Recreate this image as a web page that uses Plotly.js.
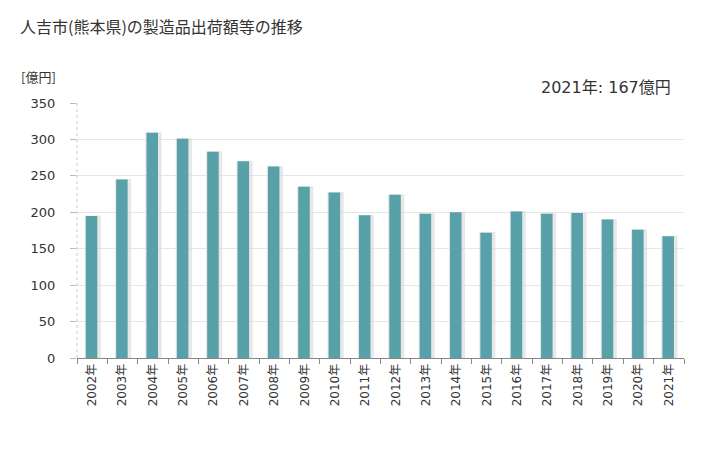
<!DOCTYPE html>
<html>
<head>
<meta charset="utf-8">
<script src="https://cdn.plot.ly/plotly-3.0.1.min.js"></script>
<style>html,body{margin:0;padding:0;background:#fff;}#chart{width:728px;height:450px;}</style>
</head>
<body>
<div id="chart"></div>
<script>
const years = ["2002年","2003年","2004年","2005年","2006年","2007年","2008年","2009年","2010年","2011年","2012年","2013年","2014年","2015年","2016年","2017年","2018年","2019年","2020年","2021年"];
const values = [195, 245, 309, 301, 283, 270, 263, 235, 227, 196, 224, 198, 200, 172, 201, 198, 199, 190, 176, 167];
const yTicks = [0, 50, 100, 150, 200, 250, 300, 350];
const titleText = "人吉市(熊本県)の製造品出荷額等の推移";
const unitText = "[億円]";
const noteText = "2021年: 167億円";

const font = "'DejaVu Sans', 'Noto Sans CJK JP', sans-serif";
const cjk = "'Noto Sans CJK JP', 'Noto Sans', sans-serif";

const shadow = {
  type: "bar", x: years, y: values, width: 0.5, offset: -0.23,
  marker: {color: "rgba(210,210,210,0.5)", line: {color: "rgba(228,228,228,0.8)", width: 1}},
  hoverinfo: "skip", showlegend: false
};
const bars = {
  type: "bar", x: years, y: values, width: 0.38, offset: -0.21,
  marker: {color: "#58a1a8", line: {width: 0}},
  showlegend: false
};

const layout = {
  width: 728, height: 450,
  margin: {l: 77, r: 44, t: 103, b: 92},
  paper_bgcolor: "#fff", plot_bgcolor: "#fff",
  barmode: "overlay",
  font: {family: font, size: 12, color: "#333"},
  title: {text: titleText, xref: "container", x: 20/728, xanchor: "left", y: 0.94, yanchor: "middle",
          font: {family: cjk, size: 16, color: "#333"}, pad: {l: 0}},
  xaxis: {
    type: "category", tickangle: -90, tickson: "boundaries",
    ticks: "outside", ticklen: 5, tickcolor: "#888",
    showline: true, linecolor: "#888", linewidth: 1,
    showgrid: false, tickfont: {family: font, size: 12, color: "#333"},
    range: [-0.5, years.length - 0.5]
  },
  yaxis: {
    range: [0, 350], tickvals: yTicks, ticktext: yTicks.map(String),
    ticks: "outside", ticklen: 6, tickcolor: "#bbb",
    showline: false, showgrid: true, gridcolor: "#e6e6e6", gridwidth: 1,
    zeroline: false, tickfont: {family: font, size: 13, color: "#333"},
    ticklabelstandoff: 12
  },
  shapes: [
    {type: "line", xref: "paper", yref: "paper", x0: 0, x1: 0, y0: 0, y1: 1,
     line: {color: "#c8c8c8", width: 1, dash: "dot"}}
  ],
  annotations: [
    {text: unitText, xref: "paper", yref: "paper", x: -0.096, y: 1.104, xanchor: "left", yanchor: "middle",
     showarrow: false, font: {family: cjk, size: 13, color: "#333"}},
    {text: noteText, xref: "paper", yref: "paper", x: 0.982, y: 1.06, xanchor: "right", yanchor: "middle",
     showarrow: false, font: {family: font, size: 16, color: "#333"}}
  ]
};

Plotly.newPlot("chart", [shadow, bars], layout, {staticPlot: true, displayModeBar: false});
</script>
</body>
</html>
